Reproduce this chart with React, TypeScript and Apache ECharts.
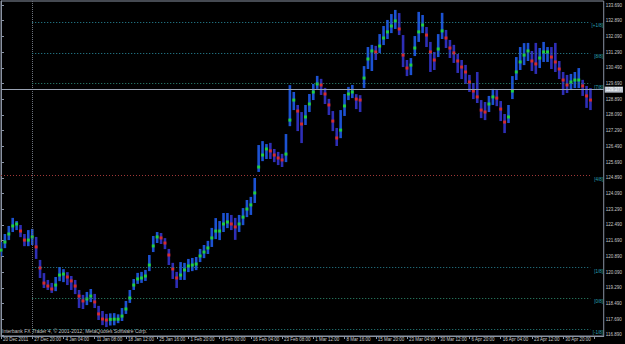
import React, { useEffect, useRef } from "react";
import * as echarts from "echarts";

// Bottom time labels, one every 8 slots
const timeLabels = [
  "20 Dec 2011", "27 Dec 20:00", "4 Jan 04:00", "11 Jan 08:00", "18 Jan 12:00",
  "25 Jan 16:00", "1 Feb 20:00", "9 Feb 00:00", "16 Feb 04:00", "23 Feb 08:00",
  "1 Mar 12:00", "8 Mar 16:00", "15 Mar 20:00", "23 Mar 04:00", "30 Mar 12:00",
  "6 Apr 20:00", "16 Apr 04:00", "23 Apr 12:00", "30 Apr 20:00",
];

// Right price scale
const yTicks = [
  116.89, 117.69, 118.49, 119.29, 120.09, 120.89, 121.69, 122.49, 123.29, 124.09, 124.89,
  125.69, 126.49, 127.29, 128.09, 128.89, 129.69, 130.49, 131.29, 132.09, 132.89, 133.69,
];

// Indicator (dotted trend line) value per slot
const mid = [
  121.21, 121.62, 122.03, 122.44, 122.54, 122.18, 121.72, 121.72, 121.88, 121.37,
  120.30, 119.53, 119.38, 119.23, 119.43, 119.94, 119.99, 119.84, 119.64, 119.38,
  118.87, 118.62, 118.72, 118.87, 118.57, 117.96, 117.70, 117.65, 117.68, 117.69,
  117.69, 117.85, 118.21, 118.77, 119.43, 119.74, 119.79, 119.89, 120.45, 121.42,
  121.88, 121.83, 121.57, 120.96, 120.25, 119.79, 119.94, 120.20, 120.40, 120.45,
  120.50, 120.91, 121.11, 121.32, 121.83, 122.18, 122.18, 122.54, 122.64, 122.54,
  122.39, 122.54, 122.89, 123.30, 123.51, 124.12, 125.44, 126.05, 126.36, 126.26,
  126.05, 125.90, 125.80, 126.10, 127.83, 128.85, 128.29, 127.63, 127.99, 128.65,
  129.26, 129.67, 129.62, 129.16, 128.60, 127.78, 126.92, 127.32, 128.55, 129.16,
  129.26, 128.90, 128.85, 129.97, 130.94, 131.35, 131.30, 131.60, 132.01, 132.32,
  132.62, 132.88, 132.47, 131.14, 130.48, 130.63, 131.50, 132.32, 132.67, 132.16,
  131.30, 130.89, 131.45, 132.37, 132.01, 131.50, 131.25, 130.84, 130.53, 130.28,
  129.77, 129.31, 129.01, 128.34, 128.24, 128.65, 129.01, 128.95, 128.39, 127.73,
  127.99, 129.31, 130.28, 130.79, 131.14, 131.35, 130.84, 130.69, 130.99, 131.30,
  131.30, 131.04, 130.79, 130.43, 129.87, 129.62, 129.77, 129.87, 129.87, 129.57,
  129.06, 128.85,
];

// Price range (high / low) per slot
const hi = [
  121.62, 122.03, 122.44, 122.85, 122.69, 122.49, 122.03, 122.23, 122.29, 121.88,
  120.71, 120.04, 119.69, 119.54, 119.84, 120.35, 120.24, 120.09, 119.89, 119.69,
  119.18, 118.93, 119.08, 119.23, 118.98, 118.37, 118.11, 117.96, 117.99, 118.00,
  117.94, 118.26, 118.62, 119.18, 119.74, 120.05, 120.10, 120.20, 120.96, 121.93,
  122.13, 122.08, 121.82, 121.27, 120.56, 120.10, 120.60, 120.56, 120.76, 120.81,
  120.86, 121.27, 121.47, 121.68, 122.34, 122.84, 122.69, 123.10, 123.10, 123.00,
  122.85, 123.00, 123.35, 123.76, 123.92, 124.88, 126.56, 126.76, 126.61, 126.67,
  126.36, 126.21, 126.11, 127.12, 129.61, 129.26, 128.60, 128.24, 128.60, 129.16,
  129.67, 130.08, 129.93, 129.47, 128.91, 128.29, 127.43, 128.34, 129.16, 129.52,
  129.62, 129.15, 129.10, 130.58, 131.55, 131.66, 131.61, 132.21, 132.62, 132.93,
  133.23, 133.44, 133.28, 132.16, 130.89, 130.99, 132.11, 133.34, 133.18, 132.57,
  131.81, 131.30, 132.21, 133.29, 132.42, 131.91, 131.66, 131.20, 130.89, 130.64,
  130.13, 129.72, 130.28, 128.85, 128.75, 129.06, 129.42, 129.36, 128.80, 128.14,
  128.60, 130.07, 131.04, 131.55, 131.75, 131.76, 131.35, 131.76, 131.50, 131.81,
  131.55, 131.55, 131.76, 130.84, 130.28, 130.13, 130.18, 130.28, 130.48, 129.88,
  129.57, 129.46,
];
const lo = [
  120.90, 121.31, 121.72, 122.13, 122.23, 121.87, 121.41, 121.41, 121.47, 120.76,
  119.79, 119.28, 119.18, 119.03, 119.12, 119.63, 119.58, 119.43, 119.18, 118.97,
  118.26, 118.21, 118.41, 118.56, 118.26, 117.65, 117.39, 117.29, 117.37, 117.38,
  117.49, 117.60, 117.96, 118.52, 119.18, 119.49, 119.54, 119.64, 120.14, 121.11,
  121.57, 121.52, 121.26, 120.45, 119.74, 119.28, 119.69, 119.69, 120.09, 120.14,
  120.19, 120.60, 120.80, 121.01, 121.37, 121.77, 121.72, 122.13, 122.33, 122.23,
  121.73, 122.13, 122.48, 122.89, 123.00, 123.61, 125.19, 125.74, 125.85, 125.85,
  125.69, 125.54, 125.44, 125.69, 127.52, 128.34, 127.27, 126.66, 127.58, 128.24,
  128.85, 129.42, 129.11, 128.65, 128.09, 127.27, 126.51, 126.91, 128.04, 128.85,
  128.95, 128.39, 128.24, 129.46, 130.43, 130.33, 130.89, 131.24, 131.65, 131.96,
  132.26, 132.47, 132.16, 130.53, 130.07, 130.12, 131.09, 131.81, 132.26, 131.55,
  130.28, 130.38, 131.04, 131.96, 131.50, 130.99, 130.74, 130.23, 129.92, 129.67,
  129.26, 128.90, 128.70, 127.93, 127.83, 128.24, 128.60, 128.54, 127.78, 127.17,
  127.68, 128.90, 129.87, 130.38, 130.63, 130.84, 130.33, 130.18, 130.48, 130.79,
  130.79, 130.43, 130.28, 129.92, 129.11, 129.21, 129.36, 129.46, 129.46, 129.06,
  128.45, 128.34,
];

// Murrey Math levels
const murreyLevels = [132.8125, 131.25, 129.6875, 125.0, 120.3125, 118.75, 117.1875];
const murreyNames = ["[+1/8]", "[8/8]", "[7/8]", "[4/8]", "[1/8]", "[0/8]", "[-1/8]"];
const murreyColors = ["#2a8ea0", "#2a8ea0", "#2f8f7c", "#a03838", "#2a8496", "#2f8f72", "#2a8a8a"];
const murreyStart = [8, 8, 8, 0, 8, 8, 8];

const lastPrice = 129.377;
const separatorSlot = 8;

export default function App() {
  const ref = useRef<HTMLDivElement>(null);

  useEffect(() => {
    const chart = echarts.init(ref.current!, null, { renderer: "svg" });
    const up = mid.map((v, i) => (i === 0 ? true : v >= mid[i - 1]));
    const xMax = 154.4;
    const lineEnd = 151.0;
    const labelSlot = 154.2;
    const axisColor = "#8a93a3";
    const textColor = "#c8c8c8";
    const font = "Liberation Sans";

    chart.setOption({
      animation: false,
      backgroundColor: "#000000",
      grid: {
        left: 1, right: 19, top: 1, bottom: 8,
        show: true, borderColor: axisColor, borderWidth: 1, backgroundColor: "transparent",
      },
      xAxis: {
        type: "value", min: 0, max: xMax, interval: 8,
        axisLine: { show: true, lineStyle: { color: axisColor } },
        axisTick: { show: true, length: 3, lineStyle: { color: axisColor } },
        splitLine: { show: false },
        axisLabel: {
          show: true, margin: 1, fontSize: 4.5, color: textColor, fontFamily: font,
          align: "left", padding: [0, 0, 0, 2], showMinLabel: true, showMaxLabel: false,
          formatter: (v: number) => {
            const k = v / 8;
            return Number.isInteger(k) && timeLabels[k] ? timeLabels[k] : "";
          },
        },
      },
      yAxis: {
        type: "value", position: "right", min: 116.836, max: 133.894,
        axisLine: { show: true, lineStyle: { color: axisColor } },
        axisTick: { show: true, length: 3, customValues: yTicks, lineStyle: { color: axisColor } },
        splitLine: { show: false },
        axisLabel: {
          customValues: yTicks, margin: 2, fontSize: 4.5, color: textColor, fontFamily: font,
          formatter: (v: number) => v.toFixed(3),
        },
      },
      graphic: [
        {
          type: "text", left: 2, top: 328,
          style: {
            text: "Interbank FX Trader 4, \u00a9 2001-2012, MetaQuotes Software Corp.",
            fill: "#c4c4c4", fontSize: 5, fontFamily: font,
          },
        },
      ],
      series: [
        {
          type: "custom",
          name: "range",
          clip: true,
          z: 2,
          data: mid.map((_, i) => [i, lo[i], hi[i]]),
          encode: { x: 0, y: [1, 2] },
          renderItem: (params: any, api: any) => {
            const i = api.value(0);
            const a = api.coord([i, api.value(1)]);
            const b = api.coord([i, api.value(2)]);
            return {
              type: "line",
              shape: { x1: a[0], y1: a[1], x2: b[0], y2: b[1] },
              style: { stroke: up[i] ? "#1c52d2" : "#2e2eb6", lineWidth: 2.6 },
            };
          },
          markLine: {
            silent: true, symbol: "none", animation: false,
            label: { show: false },
            data: [
              [
                { coord: [separatorSlot, 116.836], lineStyle: { color: "#6c727c", type: [1, 1], width: 1 } },
                { coord: [separatorSlot, 133.894] },
              ],
              ...murreyLevels.map((v, k) => [
                { coord: [murreyStart[k], v], lineStyle: { color: murreyColors[k], type: [1, 2], width: 1 } },
                { coord: [lineEnd, v] },
              ]),
            ],
          },
        },
        {
          type: "scatter",
          name: "trend",
          z: 3,
          symbol: "rect",
          symbolSize: 3,
          data: mid.map((v, i) => [i, v]),
          itemStyle: { color: (p: any) => (up[p.dataIndex] ? "#22ee22" : "#ff2a12") },
          markLine: {
            silent: true, symbol: "none", animation: false,
            data: [
              {
                yAxis: lastPrice,
                lineStyle: { color: "#9aa3b3", type: "solid", width: 1 },
                label: {
                  show: true, position: "end", distance: 1,
                  formatter: lastPrice.toFixed(3),
                  backgroundColor: "#b8bfca", color: "#ffffff",
                  fontSize: 4.5, fontFamily: font, padding: [1, 1, 0, 1],
                },
              },
            ],
          },
        },
        {
          type: "custom",
          name: "murreyLabels",
          clip: true,
          z: 4,
          data: murreyLevels.map((v, k) => [labelSlot, v, k]),
          renderItem: (params: any, api: any) => {
            const p = api.coord([api.value(0), api.value(1)]);
            const k = api.value(2);
            return {
              type: "text",
              x: p[0], y: p[1] + 1,
              style: {
                text: murreyNames[k], fill: "#2aa6b8", fontSize: 4.5, fontFamily: font,
                verticalAlign: "top", align: "right",
              },
            };
          },
        },
      ],
    });

    return () => chart.dispose();
  }, []);

  return (
    <div
      ref={ref}
      style={{ position: "fixed", left: 0, top: 0, width: 625, height: 344, background: "#000" }}
    />
  );
}
